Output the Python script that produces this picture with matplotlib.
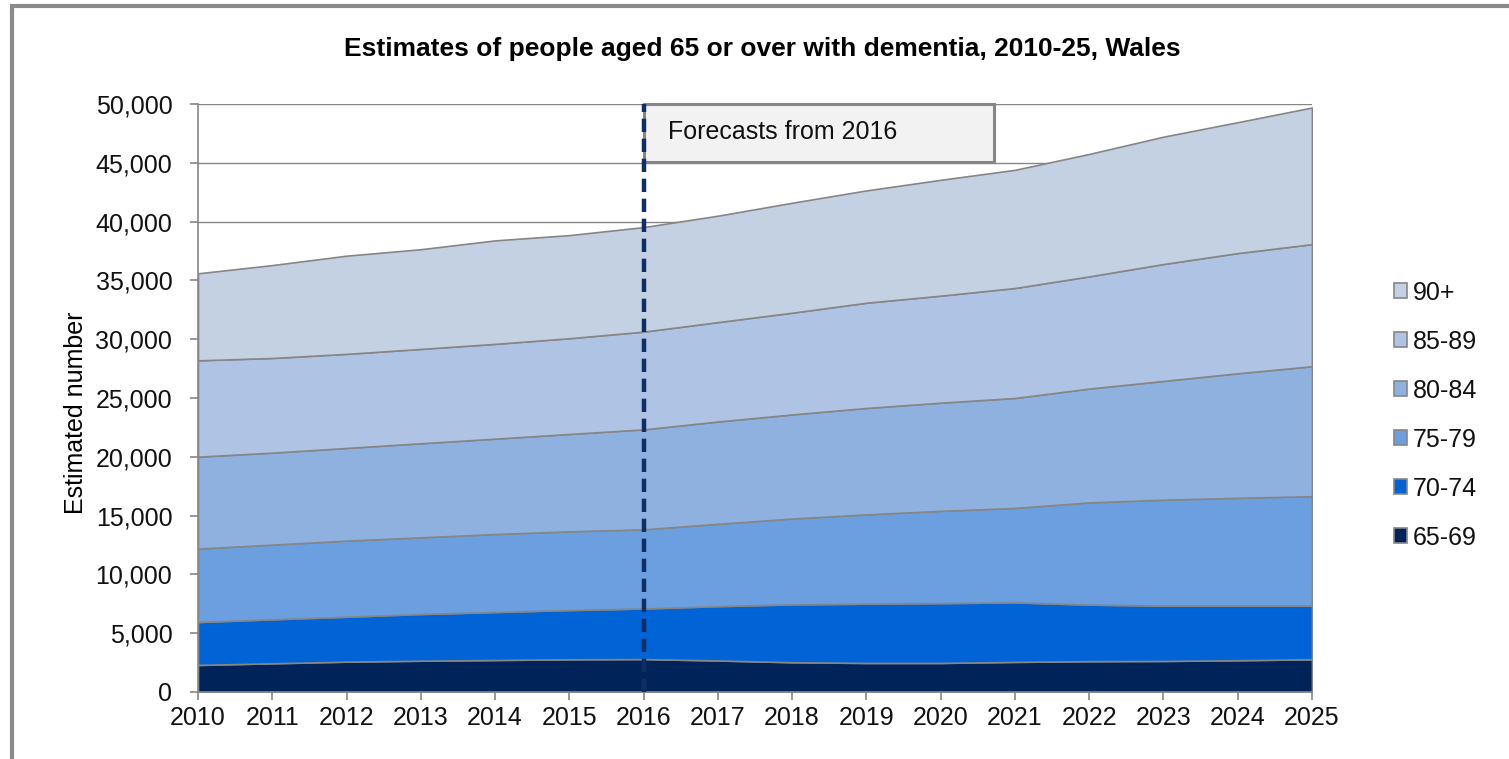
import numpy as np
import matplotlib
matplotlib.use('Agg')
import matplotlib.pyplot as plt
from matplotlib.patches import Patch, Rectangle
from matplotlib.ticker import FuncFormatter

plt.rcParams['font.family'] = ['Liberation Sans', 'DejaVu Sans']

# Datos (numero estimado por grupo de edad)
years = list(range(2010, 2026))
age_groups = ['65-69', '70-74', '75-79', '80-84', '85-89', '90+']
v65_69 = [2300, 2440, 2580, 2660, 2720, 2780, 2800, 2680, 2530, 2470, 2470, 2560, 2620, 2640, 2700, 2780]
v70_74 = [3650, 3740, 3820, 3970, 4080, 4190, 4300, 4620, 4920, 5040, 5090, 5060, 4810, 4700, 4640, 4560]
v75_79 = [6240, 6350, 6470, 6520, 6630, 6690, 6730, 7000, 7300, 7590, 7840, 8030, 8690, 9010, 9170, 9310]
v80_84 = [7820, 7820, 7880, 8000, 8110, 8280, 8500, 8700, 8850, 9050, 9200, 9350, 9680, 10100, 10590, 11050]
v85_89 = [8190, 8050, 8000, 8020, 8060, 8140, 8310, 8450, 8650, 8950, 9100, 9350, 9540, 9940, 10220, 10380]
v90_plus = [7400, 7900, 8350, 8480, 8800, 8770, 8890, 9050, 9350, 9550, 9850, 10050, 10410, 10830, 11130, 11620]
forecast_year = 2016

colores = ['#002459', '#0063D6', '#6C9FE0', '#8FB1E0', '#AFC4E4', '#C4D1E3']
gris = '#868686'

fig = plt.figure(figsize=(15.09, 7.59), dpi=100)
ax = fig.add_axes([0.1312, 0.0883, 0.8694 - 0.1312, 0.863 - 0.0883])

series = [v65_69, v70_74, v75_79, v80_84, v85_89, v90_plus]
ax.stackplot(years, *series, colors=colores, edgecolor=gris, linewidth=1.2, zorder=2)

ax.set_xlim(2010, 2025)
ax.set_ylim(0, 50000)
ax.set_xticks(years)
ax.set_yticks(np.arange(0, 50001, 5000))
ax.yaxis.set_major_formatter(FuncFormatter(lambda v, p: f'{int(v):,}'))
ax.grid(axis='y', color=gris, linewidth=1.0, zorder=1)
ax.set_axisbelow(True)

for lado in ['top', 'right']:
    ax.spines[lado].set_visible(False)
for lado in ['left', 'bottom']:
    ax.spines[lado].set_color(gris)
    ax.spines[lado].set_linewidth(1.2)
ax.tick_params(axis='both', colors=gris, length=6, width=1.2, labelcolor='#111111',
               labelsize=18)
ax.tick_params(axis='x', pad=4)
ax.tick_params(axis='y', pad=12.5)

ax.set_ylabel('Estimated number', fontsize=18)
ax.yaxis.set_label_coords(-0.0987, 0.4745)
fig.text(0.5 * (340 + 1185) / 1509, 1 - 49 / 759,
         'Estimates of people aged 65 or over with dementia, 2010-25, Wales',
         fontsize=19, fontweight='bold', ha='center', va='center')

# Linea de inicio de las previsiones
ax.axvline(forecast_year, ymin=0, ymax=1.0, color='#0E2F66', linewidth=3.2,
           linestyle=(0, (3, 1.5)), zorder=7, clip_on=False)

# Caja de texto
ax.text(forecast_year + 0.33, 45200 + (50000 - 45200) / 2, 'Forecasts from 2016',
        fontsize=18, va='center', ha='left', color='#111111', zorder=6)
caja = Rectangle((forecast_year, 45100), 4.72, 4900, facecolor='#F2F2F2',
                 edgecolor=gris, linewidth=2.2, zorder=5, clip_on=False)
ax.add_patch(caja)

handles = [Patch(facecolor=c, edgecolor=gris, linewidth=1.2) for c in colores]
leg = fig.legend(handles[::-1], age_groups[::-1], loc='upper left',
                 bbox_to_anchor=(0.9087, 0.66), frameon=False, fontsize=18,
                 handlelength=0.55, handleheight=0.55, handletextpad=0.2,
                 labelspacing=1.0)
for t in leg.get_texts():
    t.set_color('#111111')

# Marco exterior
borde = Rectangle((12 / 1509, -0.1), 1.2, 1 - 6 / 759 + 0.1, transform=fig.transFigure,
                  fill=False, edgecolor='#8A8A8A', linewidth=3)
fig.add_artist(borde)

fig.savefig('out.png', dpi=100)
